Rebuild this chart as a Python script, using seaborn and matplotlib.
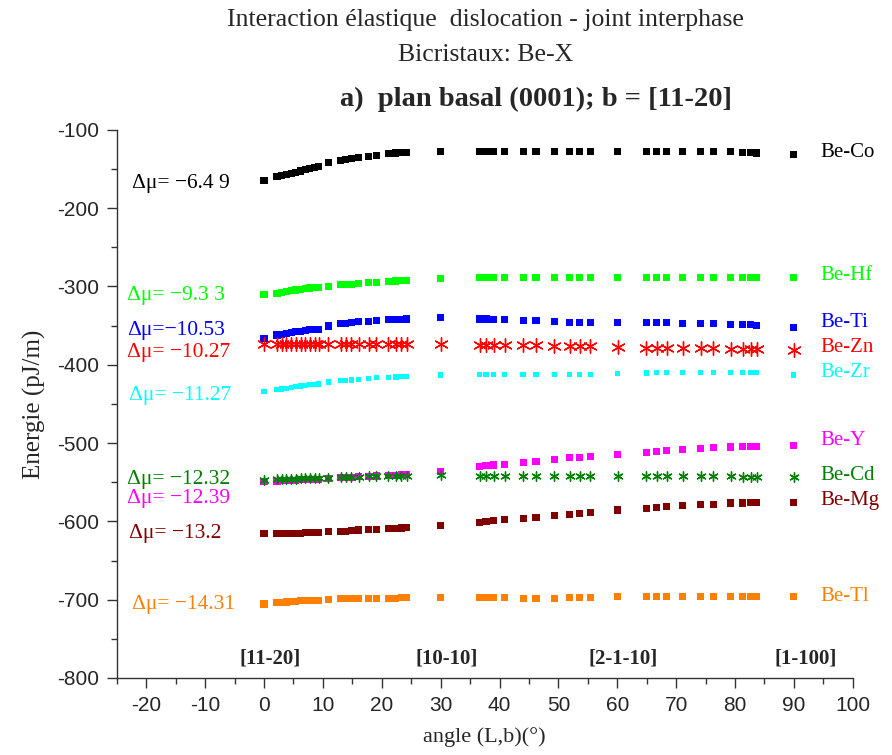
import matplotlib
matplotlib.use("Agg")
import matplotlib.pyplot as plt
import seaborn as sns
from matplotlib.ticker import MultipleLocator

# Angle between dislocation line L and Burgers vector b (degrees)
ANGLES = [0, 2.2, 3.0, 3.8, 4.6, 5.4, 6.2, 7.0, 7.8, 8.6, 9.3, 10.9, 13.0, 13.9, 14.8,
          16.1, 17.8, 19.1, 21.1, 22.4, 23.3, 24.2, 30.0,
          36.6, 37.7, 39.0, 40.9, 44.0, 46.2, 49.3, 51.9, 53.6, 55.4, 60.1, 64.9, 66.7,
          68.4, 71.1, 74.2, 76.3, 79.3, 81.3, 82.7, 83.7, 90.0]

# Interaction energy (pJ/m) for each bicrystal
BE_CO = [-165, -160, -158.5, -157, -155.5, -154, -152.5, -151, -149.5, -148, -146.5, -142, -139, -138, -137,
         -135.5, -133.5, -132.5, -130.5, -129.5, -129, -128.5, -127.5,
         -127.5, -127.5, -127.5, -127.5, -127.5, -127.5, -127.5, -127.5, -127.5, -127.5, -127.5, -127.5, -127.5,
         -127.5, -127.5, -127.5, -127.5, -128, -128.5, -129, -129.5, -131]
BE_HF = [-310.5, -308.5, -307.5, -306.5, -305.5, -304.5, -303.5, -302.5, -302, -301.5, -301, -299.5, -298, -297.5, -297,
         -296, -295.5, -295, -293.5, -293, -292.5, -292, -290,
         -289, -289, -289, -288.5, -288.5, -288.5, -288.5, -288.5, -288.5, -288.5, -288, -288, -288,
         -288, -288, -288, -288, -288, -288, -288.5, -289, -289]
BE_TI = [-366.5, -362, -361, -360, -359, -358, -357, -356, -355.5, -355, -354.5, -350.5, -347.5, -347, -346.5,
         -345, -344.5, -343.5, -342.5, -342.5, -342, -341.5, -339.5,
         -341.5, -341.5, -342, -342.5, -343.5, -344, -345, -345.5, -345.5, -346.5, -346.5, -346.5, -346.5,
         -346.5, -347, -347.5, -347.5, -348, -348.5, -349, -349.5, -352.5]
BE_ZN = [-373.5, -373.5, -373, -373, -373, -373, -373, -373, -373, -373, -373, -373, -373, -373, -373,
         -373, -373, -373, -373, -373, -373, -373, -374,
         -374.5, -374.5, -374.5, -375, -375, -375, -375.5, -375.5, -375.5, -375.5, -377, -378.5, -378.5,
         -379, -379, -379, -379, -379.5, -379.5, -380, -380, -380.5]
BE_ZR = [-434.5, -432, -431, -430, -429, -428, -427, -426, -425.5, -425, -424.5, -422, -420.5, -420, -419.5,
         -418.5, -417.5, -416.5, -416, -415.5, -415, -415, -413,
         -412.5, -412.5, -412, -412, -412, -412, -412, -412, -412, -412, -411, -410.5, -410,
         -410, -410, -410, -410, -410, -410, -410, -410, -413]
BE_Y = [-549, -548.5, -548, -548, -547.5, -547.5, -547, -547, -546.5, -546.5, -546, -545, -544, -544, -543.5,
        -543, -542.5, -542, -541.5, -541, -540.5, -540, -536,
        -530, -529, -528, -527, -525, -524, -521, -519, -518, -517, -515, -511.5, -511,
        -510, -508, -507, -506, -505, -504.5, -504, -504, -503]
BE_CD = [-547, -546.5, -546, -546, -545.5, -545.5, -545, -545, -545, -544.5, -544.5, -544, -543.5, -543.5, -543,
         -543, -542.5, -542.5, -542, -542, -542, -542, -541,
         -542, -542, -542, -542, -542, -542, -542, -542, -542, -542, -542, -542, -542,
         -542, -542.5, -542.5, -542.5, -542.5, -543, -543, -543, -543]
BE_MG = [-615, -615.5, -615.5, -615.5, -615, -615, -615, -614.5, -614.5, -614, -614, -613.5, -612.5, -612.5, -612,
         -611, -610.5, -610.5, -609.5, -609, -608.5, -608, -605,
         -601, -600, -599, -598, -596, -595.5, -592, -591, -590, -588.5, -585.5, -583, -582.5,
         -581, -580, -578.5, -578, -576.5, -576.5, -575.5, -575.5, -576]
BE_TL = [-705.5, -704, -703.5, -703, -702.5, -702, -701.5, -701.5, -701, -701, -700.5, -700, -699, -699, -699,
         -698.5, -698.5, -698, -698, -698, -697.5, -697.5, -697.5,
         -697.5, -697.5, -697.5, -697.5, -698.5, -698.5, -698.5, -697.5, -697.5, -697.5, -696.5, -696, -696,
         -696, -695.5, -695.5, -695.5, -695.5, -695.5, -695.5, -695.5, -695.5]

SYSTEMS = ["Be-Co", "Be-Hf", "Be-Ti", "Be-Zn", "Be-Zr", "Be-Y", "Be-Cd", "Be-Mg", "Be-Tl"]
DELTA_MU = ["Δμ= −6.4 9", "Δμ= −9.3 3", "Δμ=−10.53", "Δμ= −10.27", "Δμ= −11.27",
            "Δμ= −12.39", "Δμ= −12.32", "Δμ= −13.2", "Δμ= −14.31"]
DIRECTIONS = ["[11-20]", "[10-10]", "[2-1-10]", "[1-100]"]
DIRECTION_X = [1, 31, 61, 92]

series = [BE_CO, BE_HF, BE_TI, BE_ZN, BE_ZR, BE_Y, BE_CD, BE_MG, BE_TL]
colors = ["#000000", "#00ff00", "#0000ff", "#ff0000", "#00ffff",
          "#ff00ff", "#008000", "#800000", "#ff8000"]
asterisk = (6, 2, 0)
markers = ["s", "s", "s", asterisk, "s", "s", asterisk, "s", "s"]
sizes = [26, 26, 26, 95, 14, 26, 45, 26, 26]
dmu_y = [-168, -311, -356, -384, -439, -571, -546, -616, -706]
dmu_x = [-22.5, -23.2, -23.2, -23.2, -23.0, -23.2, -23.2, -23.0, -22.5]
name_y = [-129, -286, -346, -378, -410, -497, -541, -573, -696]

sns.set_style("ticks")
plt.rcParams["font.family"] = ["Liberation Serif", "DejaVu Serif"]
plt.rcParams["axes.unicode_minus"] = False

fig = plt.figure(figsize=(8.92, 7.55), dpi=100)
ax = fig.add_axes([0.131, 0.102, 0.825, 0.726])

for vals, col, mk, sz in zip(series, colors, markers, sizes):
    if mk == "s":
        sns.scatterplot(x=ANGLES, y=vals, ax=ax, color=col, marker=mk, s=sz,
                        linewidth=0, edgecolor="none", legend=False, zorder=3)
    else:
        sns.scatterplot(x=ANGLES, y=vals, ax=ax, color=col, marker=mk, s=sz,
                        linewidth=1.0, edgecolor=col, legend=False, zorder=3)

for lab, x, y, col in zip(DELTA_MU, dmu_x, dmu_y, colors):
    ax.text(x, y, lab, color=col, fontsize=15.5, va="center", ha="left")
for lab, y, col in zip(SYSTEMS, name_y, colors):
    ax.text(94.5, y, lab, color=col, fontsize=15, va="center", ha="left", clip_on=False)
for lab, x in zip(DIRECTIONS, DIRECTION_X):
    ax.text(x, -775, lab, fontsize=15, fontweight="bold", ha="center", va="center")

ax.set_xlim(-25, 100)
ax.set_ylim(-800, -100)
ax.xaxis.set_major_locator(MultipleLocator(10))
ax.xaxis.set_minor_locator(MultipleLocator(5))
ax.yaxis.set_major_locator(MultipleLocator(100))
ax.yaxis.set_minor_locator(MultipleLocator(50))
ax.set_xticks(range(-20, 101, 10))
ax.tick_params(which="major", direction="out", length=7, width=1, color="#333333",
               labelsize=15, labelfontfamily=["Liberation Sans Narrow", "Liberation Sans"], pad=6)
ax.tick_params(which="minor", direction="out", length=4, width=1, color="#333333")
sns.despine(ax=ax)
for side in ("left", "bottom"):
    ax.spines[side].set_color("#333333")
    ax.spines[side].set_linewidth(1)

ax.set_xlabel("angle (L,b)(°)", fontsize=16, labelpad=9)
ax.set_ylabel("Energie (pJ/m)", fontsize=18, labelpad=8)

fig.text(0.544, 0.974, "Interaction élastique  dislocation - joint interphase",
         ha="center", va="center", fontsize=18.5)
fig.text(0.544, 0.927, "Bicristaux: Be-X", ha="center", va="center", fontsize=18.5)
fig.text(0.601, 0.868, "a)  plan basal (0001); b = [11-20]", ha="center", va="center",
         fontsize=20.5, fontweight="bold")

fig.savefig("out.png", dpi=100)
